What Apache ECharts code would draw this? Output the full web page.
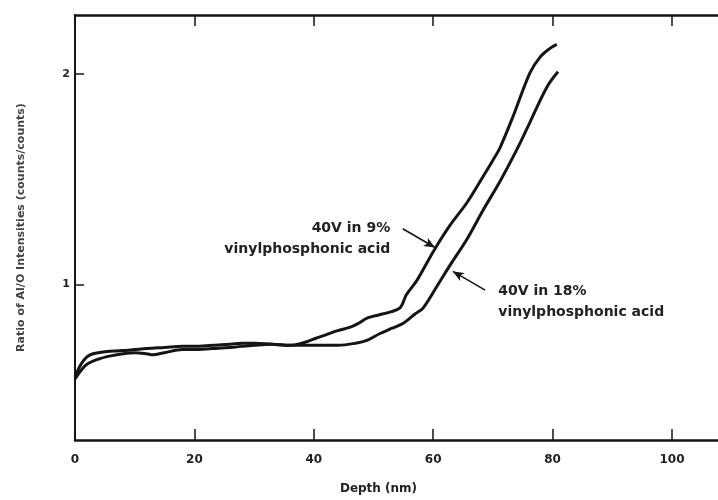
<!DOCTYPE html>
<html>
<head>
<meta charset="utf-8">
<script src="https://cdn.jsdelivr.net/npm/echarts@6/dist/echarts.min.js"></script>
<style>
  html, body { margin: 0; padding: 0; background: #ffffff; }
  #chart { width: 718px; height: 500px; }
</style>
</head>
<body>
<div id="chart"></div>
<script>
// Depth profile, anodised in 9% vinylphosphonic acid at 40 V
const depth9 = [0, 1, 2, 3, 5, 8, 10, 12, 15, 18, 20, 23, 26, 28, 30, 33, 36, 38, 40, 42, 44, 46, 47.5, 49, 51, 53, 54.5, 55.5, 57.3, 60, 62.8, 65.7, 68.3, 70, 71.2, 73.4, 76.2, 77.9, 79.5, 80.7];
const ratio9 = [0.56, 0.62, 0.655, 0.67, 0.68, 0.685, 0.69, 0.695, 0.70, 0.705, 0.705, 0.71, 0.715, 0.72, 0.72, 0.715, 0.71, 0.72, 0.74, 0.76, 0.78, 0.795, 0.815, 0.84, 0.855, 0.87, 0.89, 0.95, 1.02, 1.155, 1.28, 1.39, 1.51, 1.59, 1.65, 1.80, 2.005, 2.08, 2.12, 2.14];

// Depth profile, anodised in 18% vinylphosphonic acid at 40 V
const depth18 = [0, 1, 2, 4, 6, 8, 10, 12, 13, 15, 18, 20, 23, 26, 30, 33, 36, 40, 44, 47, 49, 51, 53, 55, 57, 58.3, 60.5, 62.8, 65.7, 68.3, 71.2, 74, 76.2, 79.1, 80.9];
const ratio18 = [0.55, 0.59, 0.62, 0.645, 0.66, 0.67, 0.675, 0.67, 0.665, 0.675, 0.69, 0.69, 0.695, 0.70, 0.71, 0.715, 0.71, 0.71, 0.71, 0.72, 0.735, 0.765, 0.79, 0.815, 0.86, 0.887, 0.985, 1.09, 1.217, 1.35, 1.49, 1.64, 1.77, 1.94, 2.01];

// Axis ticks and labels
const depthLabels = [0, 20, 40, 60, 80, 100];
const depthTicks = [20, 40, 60, 80, 100];
const ratioLabels = [1, 2];

const FONT = 'DejaVu Sans';
const INK = '#151515';

function pairs(xs, ys) { return xs.map((x, i) => [x, ys[i]]); }

// Callouts: arrow from text to curve, in data units
const callouts = [
  { lines: ['40V in 9%', 'vinylphosphonic acid'], anchor: [52.8, 1.215], align: 'right',
    arrow: [[54.9, 1.264], [60.3, 1.175]] },
  { lines: ['40V in 18%', 'vinylphosphonic acid'], anchor: [70.9, 0.917], align: 'left',
    arrow: [[68.7, 0.972], [63.3, 1.061]] }
];

const chart = echarts.init(document.getElementById('chart'), null, { renderer: 'canvas' });

const xCommon = {
  type: 'value', min: 0, max: 107.7,
  splitLine: { show: false },
  axisLine: { show: true, onZero: false, lineStyle: { color: INK, width: 2.5 } },
  axisTick: { show: true, inside: true, length: 11, customValues: depthTicks, lineStyle: { color: INK, width: 1.5 } }
};

chart.setOption({
  animation: false,
  backgroundColor: '#ffffff',
  grid: { left: 75, right: 0, top: 15, bottom: 58, containLabel: false },
  xAxis: [
    Object.assign({}, xCommon, {
      position: 'bottom',
      name: 'Depth (nm)', nameLocation: 'middle', nameGap: 43,
      nameTextStyle: { fontFamily: FONT, fontSize: 12, fontWeight: 'bold', color: '#222', padding: [0, 36, 0, 0] },
      axisLabel: { show: true, customValues: depthLabels, margin: 14, fontFamily: FONT, fontSize: 12, fontWeight: 'bold', color: '#222' }
    }),
    Object.assign({}, xCommon, {
      position: 'top',
      axisLabel: { show: false }
    })
  ],
  yAxis: {
    type: 'value', min: 0.26, max: 2.28,
    splitLine: { show: false },
    axisLine: { show: true, onZero: false, lineStyle: { color: INK, width: 2 } },
    axisTick: { show: true, inside: true, length: 9, customValues: ratioLabels, lineStyle: { color: INK, width: 1.5 } },
    axisLabel: { show: true, customValues: ratioLabels, margin: 5, fontFamily: FONT, fontSize: 11, fontWeight: 'bold', color: '#222' },
    name: 'Ratio of Al/O Intensities (counts/counts)', nameLocation: 'middle', nameGap: 48, nameRotate: 90,
    nameTextStyle: { fontFamily: FONT, fontSize: 11, fontWeight: 'bold', color: '#444' }
  },
  series: [
    {
      name: '40V in 9% vinylphosphonic acid', type: 'line', data: pairs(depth9, ratio9),
      smooth: 0.35, showSymbol: false, lineStyle: { color: INK, width: 3 },
      markLine: {
        silent: true, symbol: ['none', 'arrow'], symbolSize: [7, 11],
        lineStyle: { color: INK, width: 1.5, type: 'solid' }, label: { show: false },
        data: [[{ coord: callouts[0].arrow[0] }, { coord: callouts[0].arrow[1] }]]
      }
    },
    {
      name: '40V in 18% vinylphosphonic acid', type: 'line', data: pairs(depth18, ratio18),
      smooth: 0.35, showSymbol: false, lineStyle: { color: INK, width: 3 },
      markLine: {
        silent: true, symbol: ['none', 'arrow'], symbolSize: [7, 11],
        lineStyle: { color: INK, width: 1.5, type: 'solid' }, label: { show: false },
        data: [[{ coord: callouts[1].arrow[0] }, { coord: callouts[1].arrow[1] }]]
      }
    }
  ]
});

// Place the callout text at its data-space anchor
chart.setOption({
  graphic: callouts.map(c => {
    const p = chart.convertToPixel({ gridIndex: 0 }, c.anchor);
    return {
      type: 'text', x: p[0], y: p[1], silent: true,
      style: {
        text: c.lines.join('\n'), align: c.align, verticalAlign: 'middle',
        fontFamily: FONT, fontSize: 14, fontWeight: 'bold', lineHeight: 21, fill: '#222'
      }
    };
  })
});
</script>
</body>
</html>
